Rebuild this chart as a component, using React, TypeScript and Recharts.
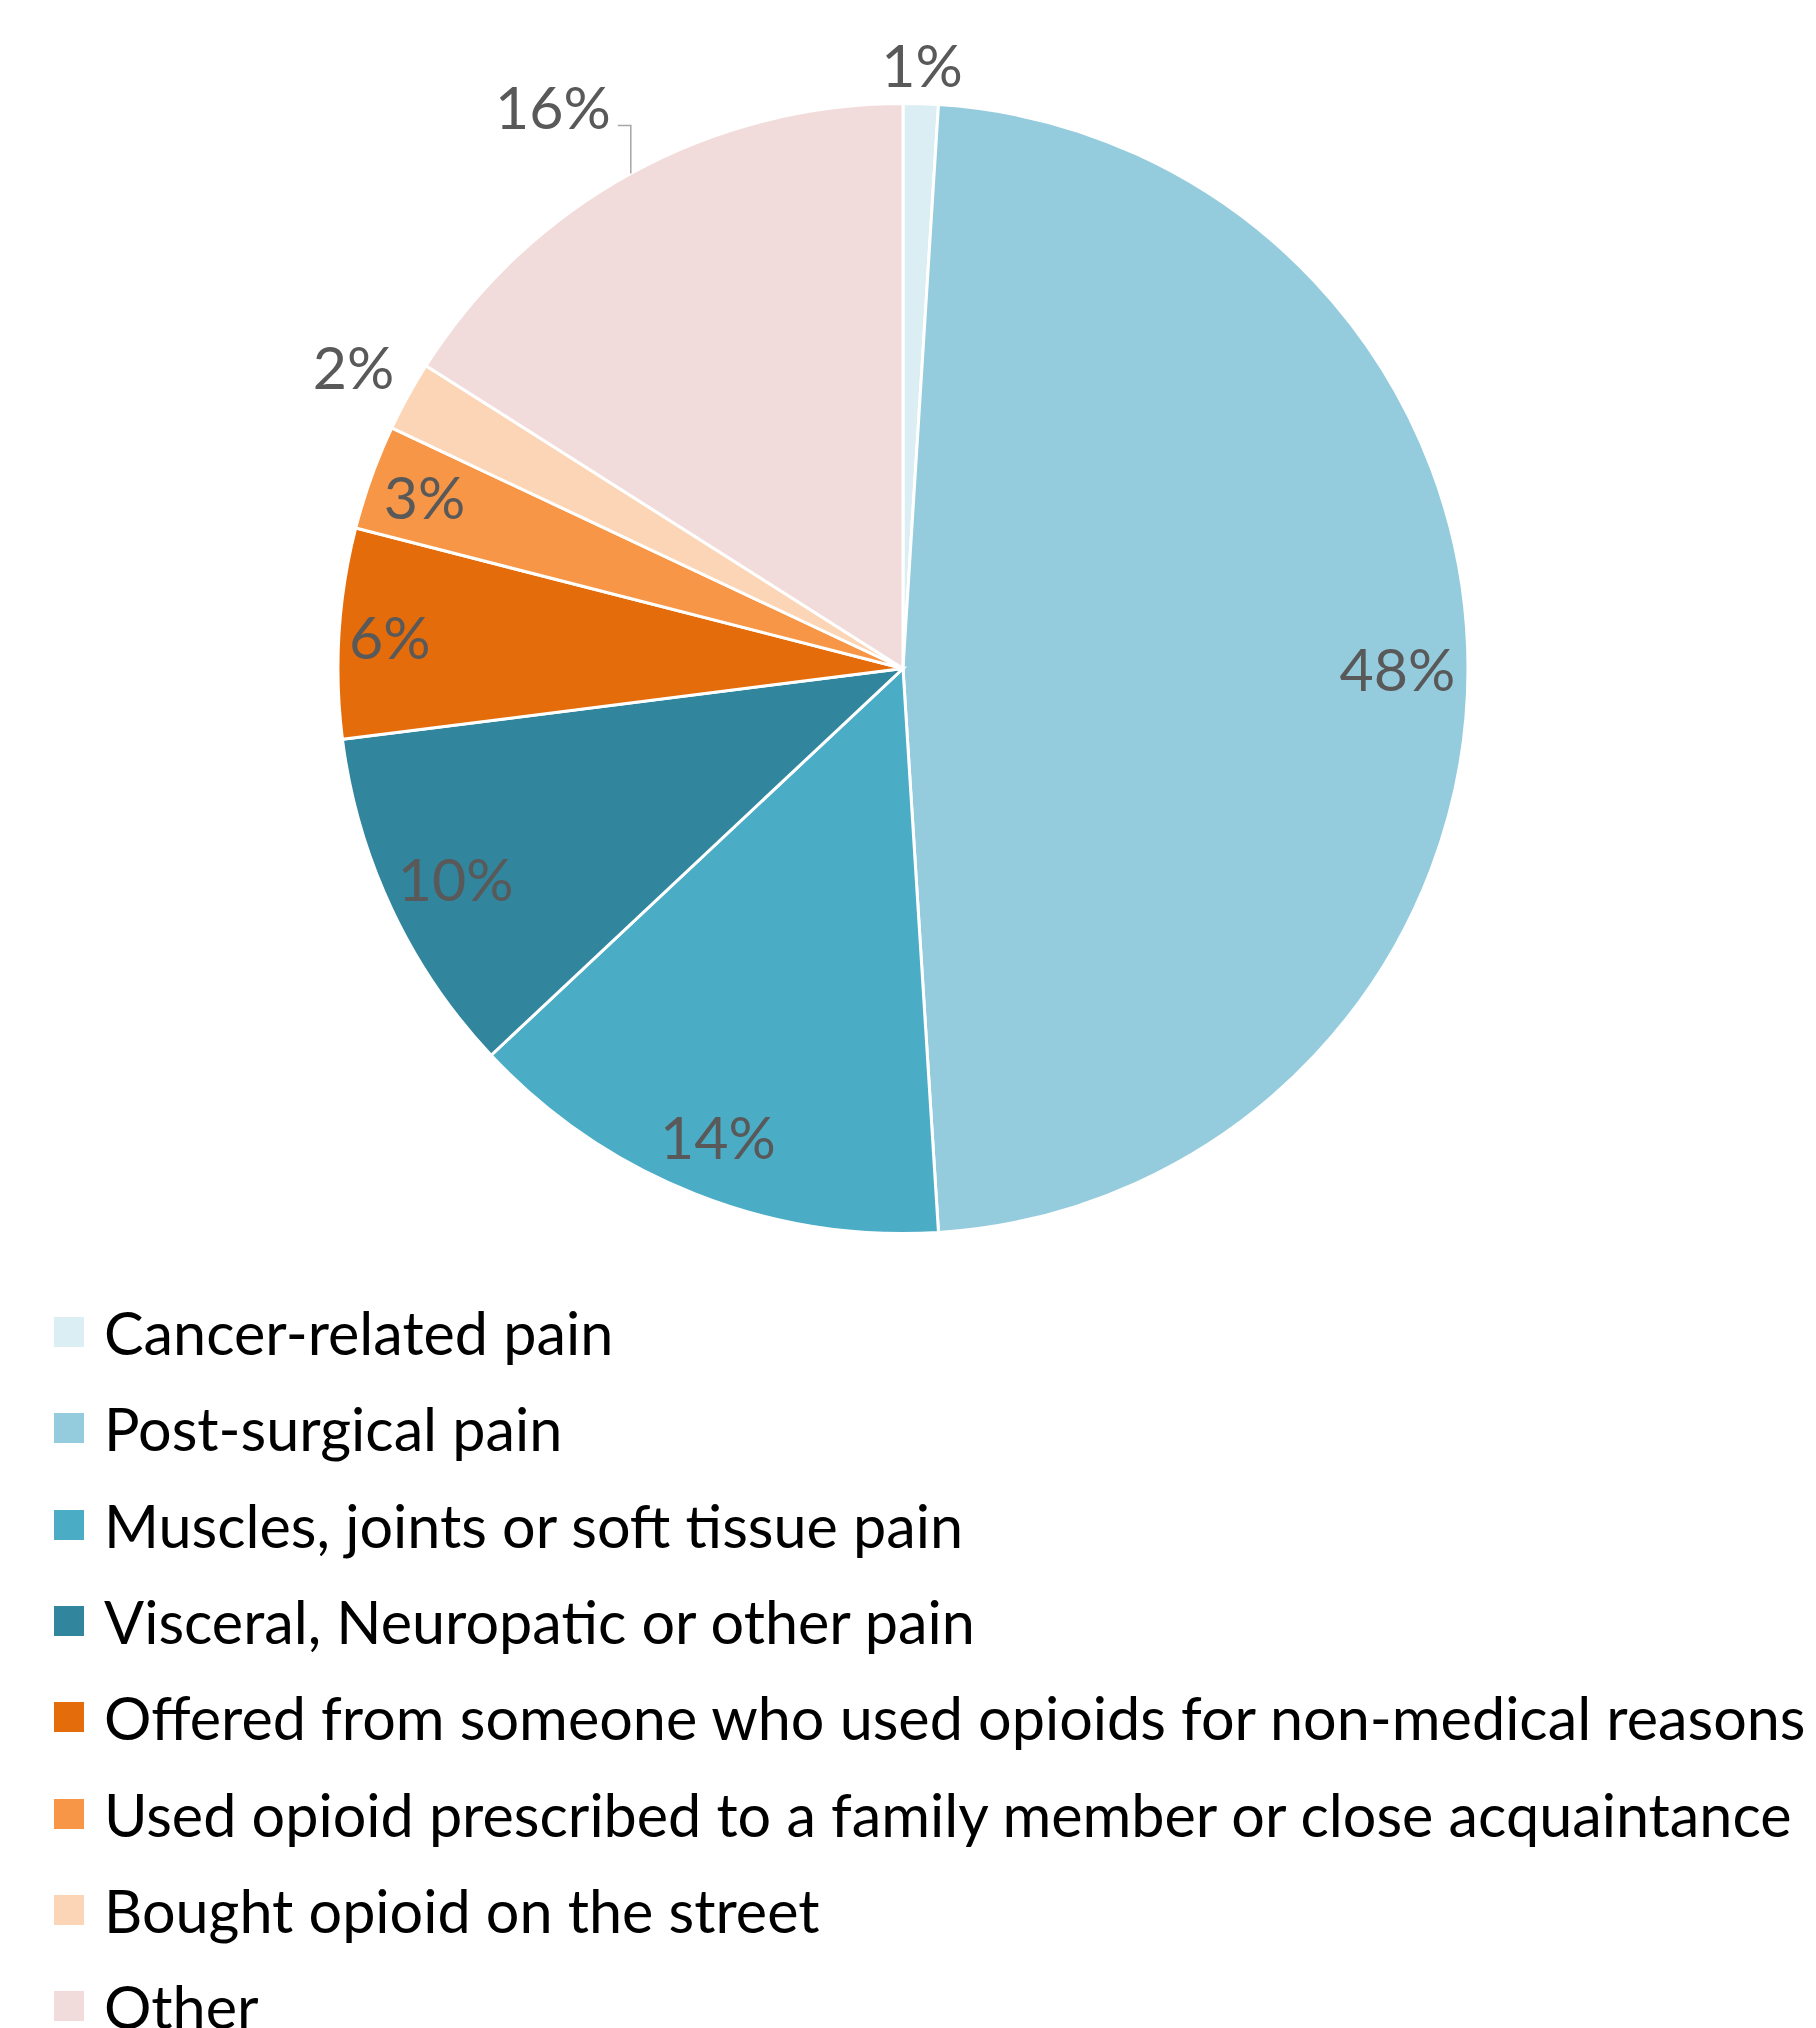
import { PieChart, Pie, Cell, Legend } from "recharts";

const CATEGORIES = [
  "Cancer-related pain",
  "Post-surgical pain",
  "Muscles, joints or soft tissue pain",
  "Visceral, Neuropatic or other pain",
  "Offered from someone who used opioids for non-medical reasons",
  "Used opioid prescribed to a family member or close acquaintance",
  "Bought opioid on the street",
  "Other",
];

const SHARES = [1, 48, 14, 10, 6, 3, 2, 16];

const COLORS = [
  "#DAEEF3",
  "#95CCDD",
  "#4BACC6",
  "#31859C",
  "#E46C0A",
  "#F79646",
  "#FBD5B5",
  "#F2DCDB",
];

// where each percentage label sits, as a fraction of the radius
const LABEL_RADIUS = [1.07, 0.875, 0.89, 0.875, 0.91, 0.9, 1.11, 1];
const LEADER = [false, false, false, false, false, false, false, true];

const FONT = "Lato, 'Open Sans', sans-serif";
const RAD = Math.PI / 180;

const data = CATEGORIES.map((name, i) => ({ name, value: SHARES[i] }));

interface LabelProps {
  cx: number;
  cy: number;
  midAngle: number;
  outerRadius: number;
  index: number;
  value: number;
}

function renderLabel({ cx, cy, midAngle, outerRadius, index, value }: LabelProps) {
  const cos = Math.cos(-midAngle * RAD);
  const sin = Math.sin(-midAngle * RAD);
  const text = `${value}%`;

  if (LEADER[index]) {
    const px = cx + outerRadius * cos;
    const py = cy + outerRadius * sin;
    const ey = py - 48;
    return (
      <g key={`lbl-${index}`}>
        <polyline
          points={`${px},${py} ${px},${ey} ${px - 13},${ey}`}
          fill="none"
          stroke="#A6A6A6"
          strokeWidth={1.5}
        />
        <text
          x={px - 20}
          y={ey - 19}
          textAnchor="end"
          dominantBaseline="central"
          fill="#595959"
          fontSize={59}
          fontFamily={FONT}
        >
          {text}
        </text>
      </g>
    );
  }

  const r = outerRadius * LABEL_RADIUS[index];
  return (
    <text
      key={`lbl-${index}`}
      x={cx + r * cos}
      y={cy + r * sin}
      textAnchor="middle"
      dominantBaseline="central"
      fill="#595959"
      fontSize={59}
      fontFamily={FONT}
    >
      {text}
    </text>
  );
}

// legend drawn in the same order as the slices (recharts would sort it by name)
function LegendContent() {
  return (
    <div style={{ fontFamily: FONT }}>
      {CATEGORIES.map((c, i) => (
        <div
          key={`leg-${i}`}
          style={{
            display: "flex",
            alignItems: "center",
            height: 96.3,
            whiteSpace: "nowrap",
          }}
        >
          <span
            style={{
              display: "inline-block",
              flexShrink: 0,
              width: 30,
              height: 30,
              marginLeft: 54,
              marginRight: 20,
              background: COLORS[i],
            }}
          />
          <span style={{ fontSize: 59.3, color: "#000" }}>{c}</span>
        </div>
      ))}
    </div>
  );
}

export default function App() {
  return (
    <div
      style={{
        position: "absolute",
        left: 0,
        top: 0,
        width: 1816,
        height: 2028,
        overflow: "hidden",
        background: "#fff",
      }}
    >
      <PieChart width={1816} height={2028} margin={{ top: 0, right: 0, bottom: 0, left: 0 }}>
        <Pie
          data={data}
          dataKey="value"
          nameKey="name"
          cx={903}
          cy={668.5}
          outerRadius={565}
          startAngle={90}
          endAngle={-270}
          stroke="#FFFFFF"
          strokeWidth={3}
          label={renderLabel}
          labelLine={false}
          isAnimationActive={false}
        >
          {data.map((_, i) => (
            <Cell key={`cell-${i}`} fill={COLORS[i]} />
          ))}
        </Pie>
        <Legend
          layout="horizontal"
          verticalAlign="bottom"
          align="left"
          content={<LegendContent />}
          wrapperStyle={{ top: 1284, left: 0, bottom: "auto", width: 1816 }}
        />
      </PieChart>
    </div>
  );
}
